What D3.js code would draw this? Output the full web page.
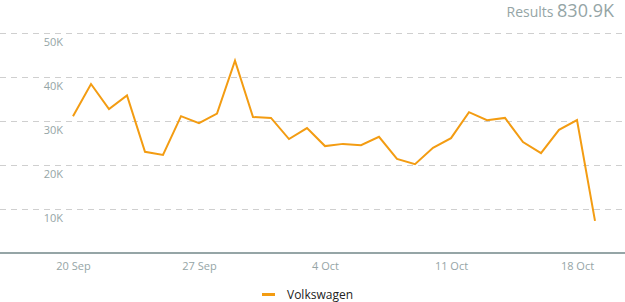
<!DOCTYPE html>
<html>
<head>
<meta charset="utf-8">
<script src="https://cdn.jsdelivr.net/npm/d3@7"></script>
<style>
  body { margin: 0; background: #fff; }
  text { font-family: "Open Sans", "Noto Sans", sans-serif; }
</style>
</head>
<body>
<div id="chart"></div>
<script>
// data
var startDate = "2015-09-20";
var seriesName = "Volkswagen";
var values = [31100, 38400, 32700, 35800, 23000, 22300, 31100, 29500, 31700, 43700,
              30900, 30700, 25900, 28400, 24300, 24800, 24500, 26400, 21400, 20200,
              23900, 26100, 32000, 30200, 30700, 25200, 22700, 28000, 30200, 7300];
var yTicks = [10000, 20000, 30000, 40000, 50000];
var xTickDates = ["2015-09-20", "2015-09-27", "2015-10-04", "2015-10-11", "2015-10-18"];
var resultsLabel = "Results";
var resultsValue = "830.9K";

(function () {
    var width = 625, height = 302;
    var parse = d3.timeParse("%Y-%m-%d");
    var day0 = parse(startDate);
    var data = values.map(function (v, i) {
        return { date: d3.timeDay.offset(day0, i), value: v };
    });

    var svg = d3.select("#chart")
        .append("svg")
        .attr("width", width)
        .attr("height", height);

    // scales
    var x = d3.scaleTime()
        .domain([day0, d3.timeDay.offset(day0, 29)])
        .range([73, 595]);
    var y = d3.scaleLinear()
        .domain([0, 50000])
        .range([253, 33]);

    // grid lines
    svg.append("g")
        .selectAll("line")
        .data(yTicks)
        .enter()
        .append("line")
        .attr("x1", 0)
        .attr("x2", width)
        .attr("y1", function (d) { return Math.round(y(d)) + 0.5; })
        .attr("y2", function (d) { return Math.round(y(d)) + 0.5; })
        .attr("stroke", "#cfcfcf")
        .attr("stroke-dasharray", "6,5");

    // y labels sit under their grid line
    svg.append("g")
        .selectAll("text")
        .data(yTicks)
        .enter()
        .append("text")
        .attr("x", 63)
        .attr("y", function (d) { return y(d) + 13; })
        .attr("text-anchor", "end")
        .attr("font-size", "11px")
        .attr("fill", "#95a5a6")
        .text(function (d) { return d3.format("d")(d / 1000) + "K"; });

    // x axis
    var xAxis = svg.append("g")
        .attr("transform", "translate(0,253)")
        .call(d3.axisBottom(x)
            .tickValues(xTickDates.map(parse))
            .tickFormat(d3.timeFormat("%-d %b"))
            .tickSize(0)
            .tickPadding(9));
    xAxis.select(".domain").remove();
    xAxis.selectAll("text")
        .attr("font-size", "11px")
        .attr("fill", "#95a5a6")
        .style("font-family", "\"Open Sans\", sans-serif");

    svg.append("line")
        .attr("x1", 0)
        .attr("x2", width)
        .attr("y1", 253)
        .attr("y2", 253)
        .attr("stroke", "#95a5a6")
        .attr("stroke-width", 2);

    // the series
    var line = d3.line()
        .x(function (d) { return x(d.date); })
        .y(function (d) { return y(d.value); });
    svg.append("path")
        .datum(data)
        .attr("d", line)
        .attr("fill", "none")
        .attr("stroke", "#f39c12")
        .attr("stroke-width", 2)
        .attr("stroke-linejoin", "miter");

    // header
    var head = svg.append("text")
        .attr("x", 614)
        .attr("y", 17)
        .attr("text-anchor", "end")
        .attr("fill", "#95a5a6");
    head.append("tspan")
        .attr("font-size", "14px")
        .text(resultsLabel + " ");
    head.append("tspan")
        .attr("font-size", "18px")
        .text(resultsValue);

    // legend
    svg.append("line")
        .attr("x1", 262)
        .attr("x2", 275)
        .attr("y1", 294.5)
        .attr("y2", 294.5)
        .attr("stroke", "#f39c12")
        .attr("stroke-width", 3);
    svg.append("text")
        .attr("x", 287)
        .attr("y", 299)
        .attr("font-size", "12px")
        .attr("fill", "#222")
        .text(seriesName);
})();
</script>
</body>
</html>
